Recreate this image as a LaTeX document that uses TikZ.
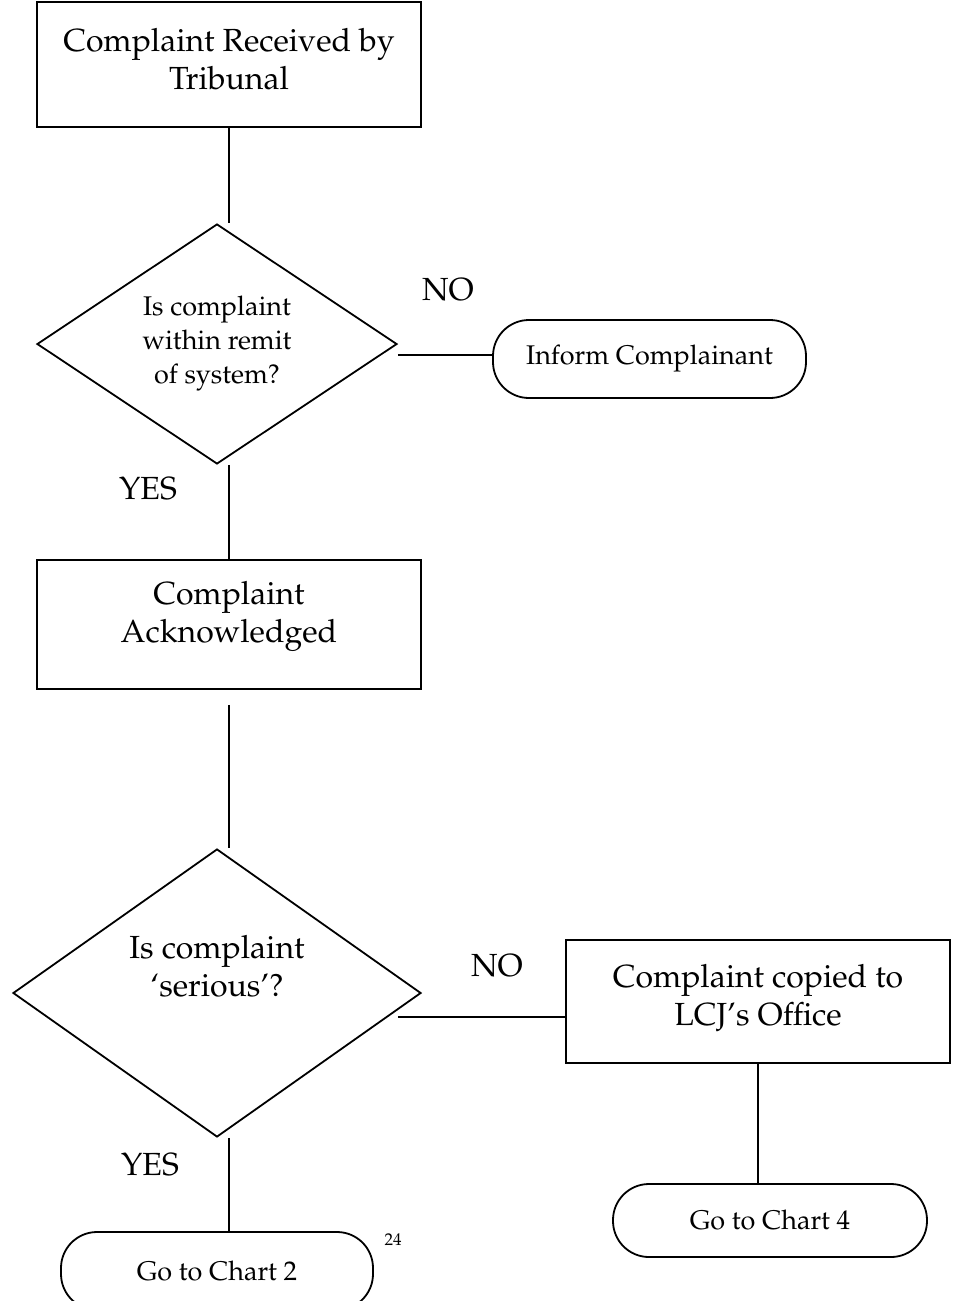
\documentclass[tikz,border=0pt]{standalone}
\usepackage[T1]{fontenc}
\renewcommand{\rmdefault}{ppl}
\usepackage{tikz}
\usetikzlibrary{shapes.geometric,positioning,calc}

\begin{document}
\begin{tikzpicture}[x=1pt,y=-1pt,line width=1.8pt,
  procbox/.style={draw,minimum width=384pt,inner sep=0pt,
    font=\fontsize{32}{38}\selectfont,align=center},
  decision/.style={draw,diamond,aspect=1.5,inner sep=0pt,align=center},
  terminal/.style={draw,rounded corners=36pt,minimum height=78pt,
    inner sep=0pt,font=\fontsize{27}{34}\selectfont},
  lbl/.style={font=\fontsize{32}{38}\selectfont}]
  \clip (0,0) rectangle (960,1301);
  \node[procbox,minimum height=125pt,text depth=12pt](CR) at (229,64.5)
    {Complaint Received by\\Tribunal};
  \node[decision,minimum width=360pt,minimum height=240pt,
    font=\fontsize{27}{34}\selectfont](RM) at (217,344)
    {Is complaint\\within remit\\of system?};
  \node[terminal,minimum width=313pt](IC) at (649.5,359)
    {Inform Complainant};
  \node[procbox,minimum height=129pt,text depth=25pt](AK) at (229,624.5)
    {Complaint\\Acknowledged};
  \node[decision,minimum width=408pt,minimum height=288pt,
    label={[lbl,align=center,yshift=27pt]center:Is complaint\\`serious'?}]
    (SR) at (217,993) {};
  \node[procbox,minimum height=123pt,text depth=14pt](LC) at (758,1001.5)
    {Complaint copied to\\LCJ's Office};
  \node[terminal,minimum width=312pt](GC2) at (217,1271)
    {Go to Chart 2};
  \node[terminal,minimum width=314pt,minimum height=73pt](GC4) at (770,1220.5)
    {Go to Chart 4};
  \draw(CR.south)--(CR.south |- RM.north);
  \draw([yshift=4pt]RM.east |- IC.west)--([yshift=4pt]IC.west);
  \draw(RM.south -| AK.north)--(AK.north);
  \draw([yshift=-15pt]AK.south)--(AK.south |- SR.north);
  \coordinate(SRe) at ([xshift=-24pt,yshift=-24pt]SR.east);
  \draw(SRe)--(SRe -| LC.west);
  \draw(LC.south)--(LC.south |- GC4.north);
  \draw(SR.south -| AK.south)--(AK.south |- GC2.north);
  % Annotation
  \node[lbl](NO1) at (448,290) {NO};
  \node[lbl](YES1) at (148,489) {YES};
  \node[lbl](NO2) at (497,966) {NO};
  \node[lbl](YES2) at (150,1165) {YES};
  \node[font=\fontsize{17}{20}\selectfont](PG) at (393,1240) {24};
\end{tikzpicture}
\end{document}
